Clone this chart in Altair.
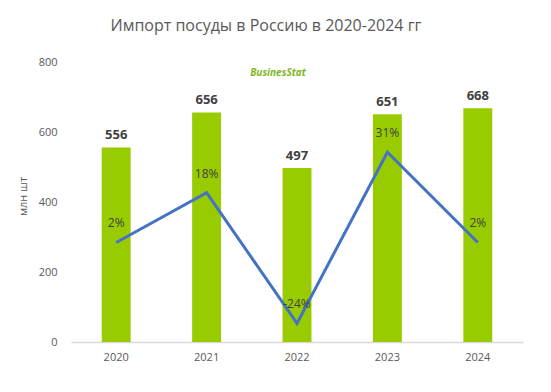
import altair as alt
import pandas as pd

years = ["2020", "2021", "2022", "2023", "2024"]
volumes = [556, 656, 497, 651, 668]
growth = [2, 18, -24, 31, 2]
growth_labels = ["2%", "18%", "-24%", "31%", "2%"]

df = pd.DataFrame({"year": years, "vol": volumes, "g": growth, "glab": growth_labels})
logo = pd.DataFrame({"year": ["2022"], "v": [770], "t": ["BusinesStat"]})

FONT = "Open Sans"
x = alt.X("year:N", title=None, sort=years,
          scale=alt.Scale(paddingInner=0.68, paddingOuter=0.34),
          axis=alt.Axis(labelAngle=0, ticks=False, domainColor="#d9d9d9", domainWidth=1.5,
                        labelColor="#595959", labelFontSize=11, labelPadding=9, labelFont=FONT))

yl = alt.Y("vol:Q", title="млн  шт", scale=alt.Scale(domain=[0, 800]),
           axis=alt.Axis(values=[0, 200, 400, 600, 800], grid=False, ticks=False, domain=False,
                         labelColor="#595959", labelFontSize=11, labelPadding=14, labelFont=FONT,
                         titleColor="#595959", titleFontSize=11, titleFontWeight="normal",
                         titlePadding=10, titleFont=FONT, titleY=134))

bars = alt.Chart(df).mark_bar(color="#99cc00").encode(x=x, y=yl)
btext = alt.Chart(df).mark_text(dy=-12, fontSize=13, fontWeight="bold", color="#404040", font=FONT).encode(
    x=alt.X("year:N", sort=years), y="vol:Q", text="vol:Q")
logo_t = alt.Chart(logo).mark_text(dx=-19, fontSize=10, fontWeight="bold", fontStyle="italic",
                                   color="#7fb51f", font=FONT).encode(
    x=alt.X("year:N", sort=years), y=alt.Y("v:Q"), text="t:N")

left = alt.layer(bars, btext, logo_t)

yr = alt.Y("g:Q", scale=alt.Scale(domain=[-30, 60]), axis=None)
line = alt.Chart(df).mark_line(color="#4472c4", strokeWidth=3).encode(
    x=alt.X("year:N", sort=years), y=yr)
ltext = alt.Chart(df).mark_text(dy=-19, fontSize=12, color="#404040", font=FONT).encode(
    x=alt.X("year:N", sort=years), y=yr, text="glab:N")
right = alt.layer(line, ltext)

chart = alt.layer(left, right).resolve_scale(y="independent").properties(
    width=452, height=280,
    padding={"left": 9, "top": 10, "right": 5, "bottom": 5},
    title=alt.TitleParams("Импорт посуды в Россию в 2020-2024 гг", fontSize=16, fontWeight="normal",
                          color="#595959", font=FONT, offset=22, dx=-31),
).configure_view(stroke=None)

chart.save("out.html", embed_options={"renderer": "svg", "actions": False})
